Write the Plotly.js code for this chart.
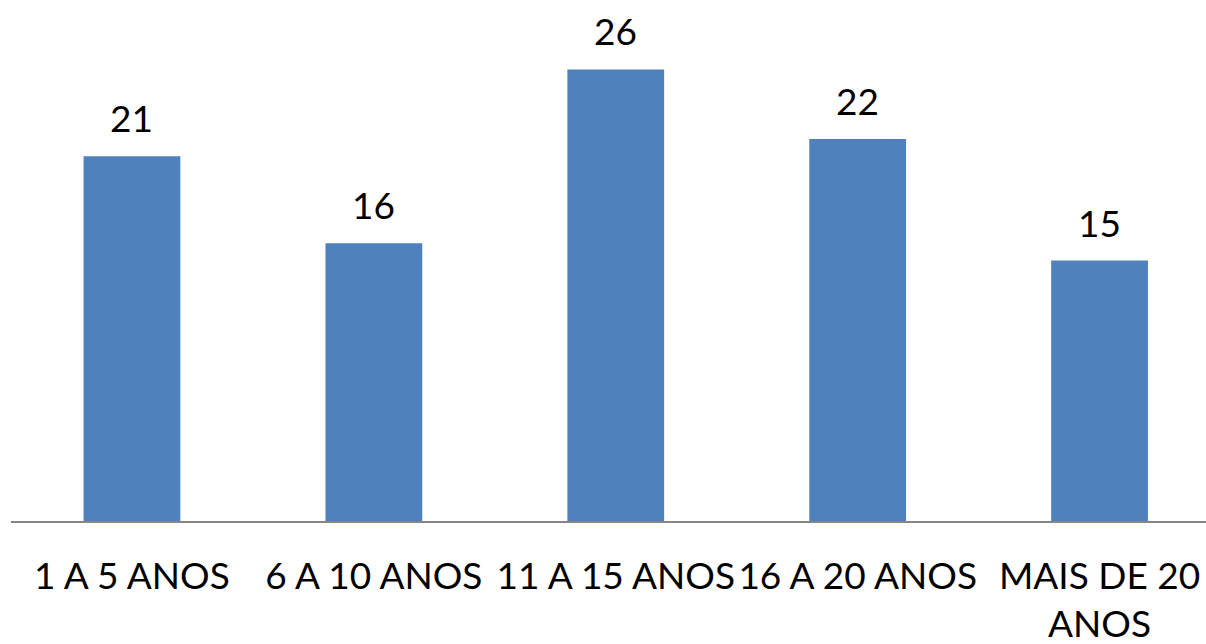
<!DOCTYPE html>
<html>
<head>
<meta charset="utf-8">
<script src="https://cdn.plot.ly/plotly-3.0.1.min.js"></script>
<style>html,body{margin:0;padding:0;background:#fff;}#chart{width:1206px;height:644px;}</style>
</head>
<body>
<div id="chart"></div>
<script>
const categories = ["1 A 5 ANOS", "6 A 10 ANOS", "11 A 15 ANOS", "16 A 20 ANOS", "MAIS DE 20<br>ANOS"];
const values = [21, 16, 26, 22, 15];
const labels = ["21", "16", "26", "22", "15"];

const FONT = "Lato, 'Open Sans', sans-serif";

const trace = {
  type: "bar",
  x: categories,
  y: values,
  width: 0.4,
  marker: {color: "#4F81BD"},
  hoverinfo: "none"
};

const annotations = categories.map((c, i) => ({
  x: c, y: values[i], text: labels[i],
  xref: "x", yref: "y",
  showarrow: false, yanchor: "bottom", yshift: 14,
  font: {family: FONT, size: 37, color: "#000"}
}));

const layout = {
  width: 1206, height: 644,
  margin: {l: 11, r: 0, t: 0, b: 123},
  paper_bgcolor: "#fff", plot_bgcolor: "#fff",
  showlegend: false,
  xaxis: {
    type: "category",
    range: [-0.5, 4.44],
    tickangle: 0,
    showline: true, linecolor: "#868686", linewidth: 1.5,
    ticks: "",
    showgrid: false, zeroline: false,
    tickfont: {family: FONT, size: 37, color: "#000"},
    ticklabelstandoff: 22
  },
  yaxis: {
    range: [0, 30],
    visible: false,
    showgrid: false, zeroline: false
  },
  annotations: annotations
};

Plotly.newPlot("chart", [trace], layout, {displayModeBar: false, staticPlot: true});
</script>
</body>
</html>
